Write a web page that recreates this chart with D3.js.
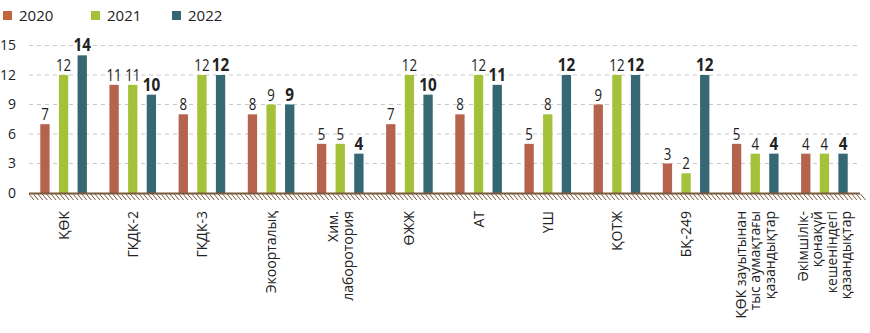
<!DOCTYPE html>
<html>
<head>
<meta charset="utf-8">
<script src="https://cdn.jsdelivr.net/npm/d3@7"></script>
<style>
body { margin: 0; background: #fff; }
text { font-family: "Open Sans", "Noto Sans", sans-serif; }
</style>
</head>
<body>
<svg id="chart" width="870" height="333"></svg>
<script>
const categories = [
  ["ҚӨК"],
  ["ГКДК-2"],
  ["ГКДК-3"],
  ["Экоорталық"],
  ["Хим.", "лаборотория"],
  ["ӨЖЖ"],
  ["АТ"],
  ["ҮШ"],
  ["ҚОТЖ"],
  ["БҚ-249"],
  ["ҚӨК зауытынан", "тыс аумақтағы", "қазандықтар"],
  ["Әкімшілік-", "қонақүй", "кешеніндегі", "қазандықтар"]
];
const years = ["2020", "2021", "2022"];
const values2020 = [7, 11, 8, 8, 5, 7, 8, 5, 9, 3, 5, 4];
const values2021 = [12, 11, 12, 9, 5, 12, 12, 8, 12, 2, 4, 4];
const values2022 = [14, 10, 12, 9, 4, 10, 11, 12, 12, 12, 4, 4];
const yTicks = [0, 3, 6, 9, 12, 15];

const series = [values2020, values2021, values2022];
const barColors = ["#b5634d", "#a3c139", "#356872"];
const legendColors = ["#c0663c", "#a3c139", "#356872"];

const svg = d3.select("#chart");
const x0 = 29, x1 = 859, yBase = 193, yTop = 45.5;
const x = d3.scaleBand().domain(d3.range(categories.length)).range([x0, x1]).padding(0);
const xs = d3.scaleBand().domain(years).range([-23.3, 23.3]).paddingInner(0.5).paddingOuter(0);
const y = d3.scaleLinear().domain([0, 15]).range([yBase, yTop]);

// gridlines
svg.append("g").selectAll("line").data(yTicks.filter(d => d > 0)).join("line")
  .attr("x1", x0).attr("x2", x1)
  .attr("y1", d => y(d)).attr("y2", d => y(d))
  .attr("stroke", "#c8c8c8").attr("stroke-dasharray", "4,4").attr("stroke-width", 1);

// y axis labels
const yAxis = d3.axisLeft(y).tickValues(yTicks).tickSize(0).tickPadding(0);
const yg = svg.append("g").attr("transform", "translate(16,0)").call(yAxis);
yg.select(".domain").remove();
yg.selectAll("text").attr("font-size", 14).attr("fill", "#222")
  .attr("font-family", "'Open Sans', sans-serif");

// bars
series.forEach((vals, si) => {
  const g = svg.append("g");
  g.selectAll("rect").data(vals).join("rect")
    .attr("x", (d, i) => x(i) + x.bandwidth() / 2 + xs(years[si]))
    .attr("width", xs.bandwidth())
    .attr("y", d => y(d))
    .attr("height", d => yBase - y(d))
    .attr("fill", barColors[si]);
  const sx = si === 2 ? 0.9 : 0.78;
  g.selectAll("text").data(vals).join("text")
    .attr("transform", (d, i) => `translate(${x(i) + x.bandwidth() / 2 + xs(years[si]) + xs.bandwidth() / 2},${y(d) - 4}) scale(${sx},1)`)
    .attr("text-anchor", "middle")
    .attr("font-size", 17)
    .attr("font-weight", si === 2 ? "bold" : "normal")
    .attr("fill", "#222")
    .text(d => d);
});

// hatch under baseline
const hatch = svg.append("g");
const hx = d3.range(x0, x1 + 2, 4.4);
hatch.selectAll("line").data(hx).join("line")
  .attr("x1", d => d).attr("y1", yBase + 1)
  .attr("x2", d => d + 5).attr("y2", yBase + 7)
  .attr("stroke", "#7a5a3c").attr("stroke-width", 1);
svg.append("line").attr("x1", x0).attr("x2", x1 + 1)
  .attr("y1", yBase + 0.5).attr("y2", yBase + 0.5)
  .attr("stroke", "#7a5a3c").attr("stroke-width", 2);

// x labels
const xl = svg.append("g");
categories.forEach((lines, i) => {
  const cx = x(i) + x.bandwidth() / 2;
  const n = lines.length;
  const lh = 14.5;
  const t = xl.append("text")
    .attr("transform", `translate(${cx},211) rotate(-90)`)
    .attr("text-anchor", "end")
    .attr("font-size", 14)
    .attr("fill", "#222");
  lines.forEach((ln, j) => {
    t.append("tspan").attr("x", 0)
      .attr("y", (j - (n - 1) / 2) * lh + 5)
      .text(ln);
  });
});

// legend
const legX = [3, 91, 172];
years.forEach((yr, i) => {
  svg.append("rect").attr("x", legX[i]).attr("y", 11).attr("width", 9).attr("height", 9)
    .attr("fill", legendColors[i]);
  svg.append("text").attr("x", legX[i] + 16).attr("y", 21)
    .attr("font-size", 15).attr("fill", "#222").text(yr);
});
</script>
</body>
</html>
